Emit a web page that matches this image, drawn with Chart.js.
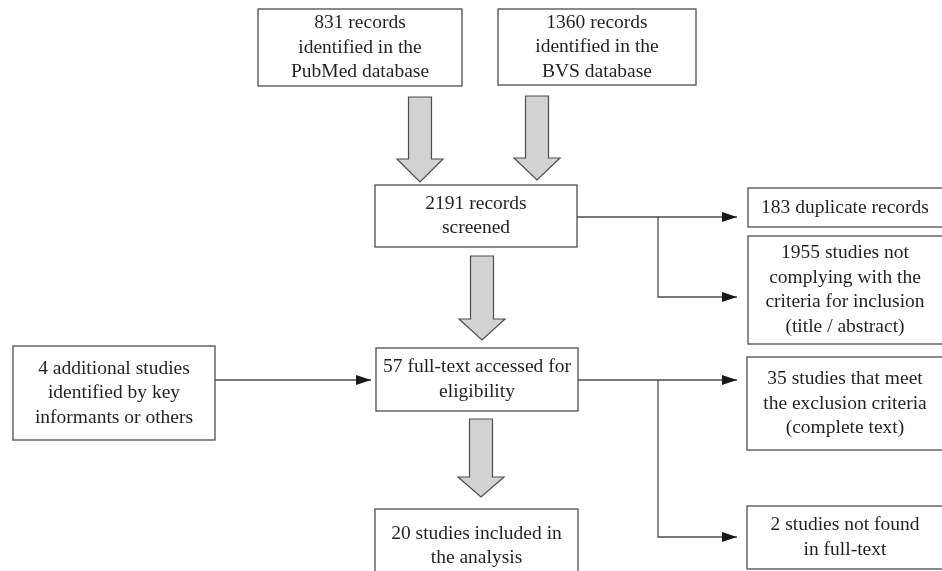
<!DOCTYPE html>
<html>
<head>
<meta charset="utf-8">
<script src="https://cdn.jsdelivr.net/npm/chart.js@4.4.0/dist/chart.umd.min.js"></script>
<style>
    html, body { margin: 0; padding: 0; background: #fff; }
    #wrap { width: 942px; height: 571px; }
</style>
</head>
<body>
<div id="wrap"><canvas id="flow"></canvas></div>
<script>
/* box texts of the flow diagram */
const sourceLabels = ['831 records\nidentified in the\nPubMed database', '1360 records\nidentified in the\nBVS database'];
const stageLabels = ['2191 records\nscreened', '57 full-text accessed for\neligibility', '20 studies included in\nthe analysis'];
const extraLabels = ['4 additional studies\nidentified by key\ninformants or others'];
const excludedLabels = ['183 duplicate records', '1955 studies not\ncomplying with the\ncriteria for inclusion\n(title / abstract)',
    '35 studies that meet\nthe exclusion criteria\n(complete text)', '2 studies not found\nin full-text'];

window.onload = function () {
    // layout, in the units of the x / y scales (x0, y0, x1, y1)
    const boxes = [
        { r: [258, 9, 462, 86], t: sourceLabels[0] },
        { r: [498, 9, 696, 85], t: sourceLabels[1] },
        { r: [375, 185, 577, 247], t: stageLabels[0] },
        { r: [376, 348, 578, 411], t: stageLabels[1] },
        { r: [375, 509, 578, 590], t: stageLabels[2], ty: 546 },
        { r: [13, 346, 215, 440], t: extraLabels[0] },
        { r: [748, 188, 950, 227], t: excludedLabels[0], tx: 845 },
        { r: [748, 236, 950, 344], t: excludedLabels[1], tx: 845 },
        { r: [747, 357, 950, 450], t: excludedLabels[2], tx: 845 },
        { r: [747, 506, 950, 569], t: excludedLabels[3], tx: 845 }
    ];
    // big gray arrows: centre x, top, end of shaft, tip
    const bigArrows = [
        [420, 97, 159, 182],
        [537, 96, 158, 180],
        [482, 256, 319, 340],
        [481, 419, 477, 497]
    ];
    // connector lines, the last point gets an arrow head
    const connectors = [
        [{ x: 577, y: 217 }, { x: 737, y: 217 }],
        [{ x: 658, y: 217 }, { x: 658, y: 297 }, { x: 737, y: 297 }],
        [{ x: 215, y: 380 }, { x: 371, y: 380 }],
        [{ x: 578, y: 380 }, { x: 737, y: 380 }],
        [{ x: 658, y: 380 }, { x: 658, y: 537 }, { x: 737, y: 537 }]
    ];

    const flowDraw = {
        id: 'flowDraw',
        afterDatasetsDraw(chart) {
            const { ctx, scales: { x, y } } = chart;
            const px = v => x.getPixelForValue(v);
            const py = v => y.getPixelForValue(v);
            ctx.save();

            // arrow heads on the connectors
            ctx.fillStyle = '#1a1a1a';
            connectors.forEach(c => {
                const e = c[c.length - 1];
                ctx.beginPath();
                ctx.moveTo(px(e.x), py(e.y));
                ctx.lineTo(px(e.x) - 15, py(e.y) - 5);
                ctx.lineTo(px(e.x) - 15, py(e.y) + 5);
                ctx.closePath();
                ctx.fill();
            });

            // gray block arrows
            ctx.lineWidth = 1.2;
            ctx.strokeStyle = '#4d4d4d';
            ctx.fillStyle = '#d2d2d2';
            bigArrows.forEach(a => {
                const cx = px(a[0]);
                ctx.beginPath();
                ctx.moveTo(cx - 11.5, py(a[1]));
                ctx.lineTo(cx + 11.5, py(a[1]));
                ctx.lineTo(cx + 11.5, py(a[2]));
                ctx.lineTo(cx + 23, py(a[2]));
                ctx.lineTo(cx, py(a[3]));
                ctx.lineTo(cx - 23, py(a[2]));
                ctx.lineTo(cx - 11.5, py(a[2]));
                ctx.closePath();
                ctx.fill();
                ctx.stroke();
            });

            // boxes and their text
            ctx.font = '19.5px "Liberation Serif", "DejaVu Serif", serif';
            ctx.textAlign = 'center';
            ctx.textBaseline = 'middle';
            boxes.forEach(b => {
                const [x0, y0, x1, y1] = b.r;
                ctx.fillStyle = '#ffffff';
                ctx.fillRect(px(x0), py(y0), px(x1) - px(x0), py(y1) - py(y0));
                ctx.strokeStyle = '#4d4d4d';
                ctx.lineWidth = 1.3;
                ctx.strokeRect(px(x0), py(y0), px(x1) - px(x0), py(y1) - py(y0));
                const lines = b.t.split('\n');
                const cx = px(b.tx !== undefined ? b.tx : (x0 + x1) / 2);
                const cy = py(b.ty !== undefined ? b.ty : (y0 + y1) / 2);
                ctx.fillStyle = '#231f20';
                lines.forEach((l, i) => {
                    ctx.fillText(l, cx, cy + (i - (lines.length - 1) / 2) * 24.5);
                });
            });
            ctx.restore();
        }
    };

    const ctx = document.getElementById('flow');
    new Chart(ctx, {
        type: 'scatter',
        data: {
            datasets: connectors.map(c => ({
                data: c,
                showLine: true,
                borderColor: '#4d4d4d',
                borderWidth: 1.3,
                pointRadius: 0,
                tension: 0
            }))
        },
        options: {
            responsive: true,
            maintainAspectRatio: false,
            animation: false,
            layout: { padding: 0 },
            scales: {
                x: { type: 'linear', min: 0, max: 942, display: false },
                y: { type: 'linear', min: 0, max: 571, reverse: true, display: false }
            },
            plugins: {
                legend: { display: false },
                tooltip: { enabled: false }
            }
        },
        plugins: [flowDraw]
    });
};
</script>
</body>
</html>
